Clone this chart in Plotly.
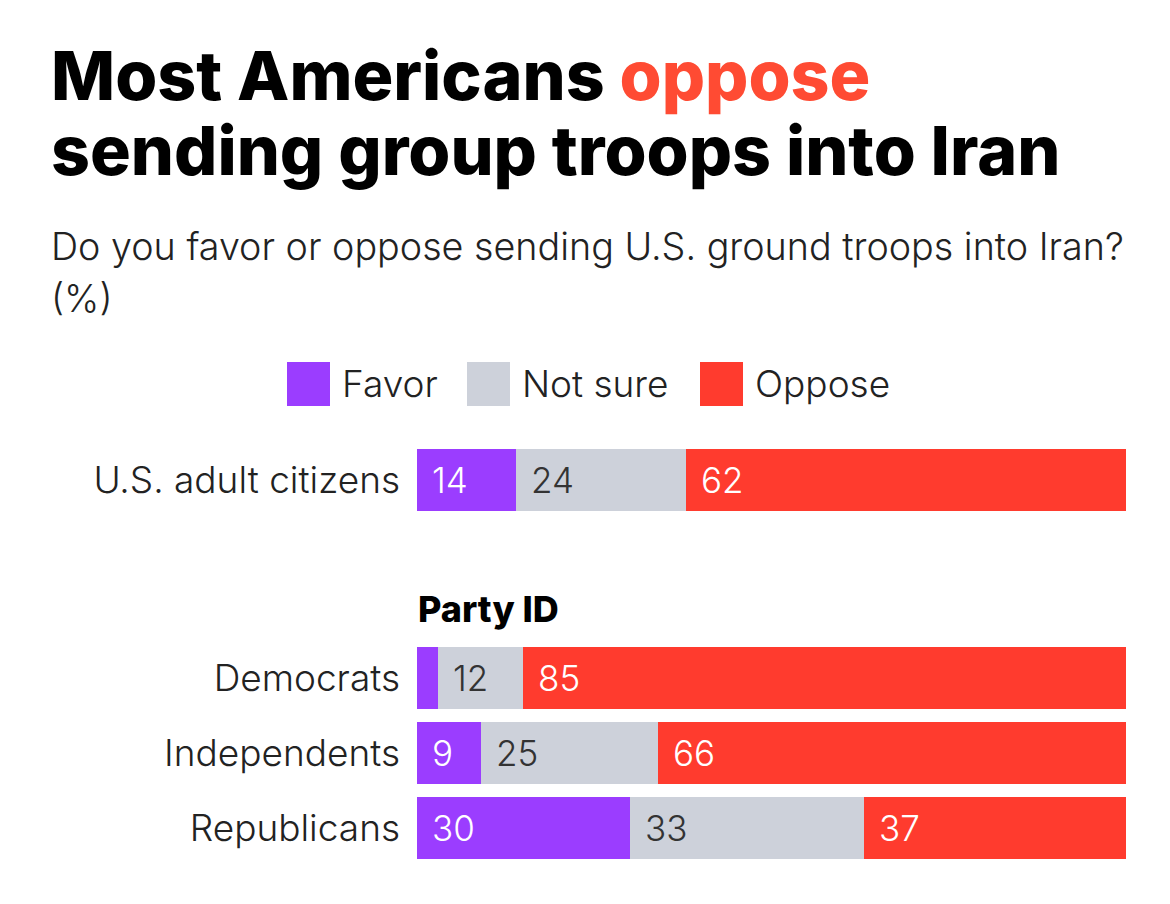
import plotly.graph_objects as go

# ---- data ----
categories = ["U.S. adult citizens", "Democrats", "Independents", "Republicans"]
favor = [14, 3, 9, 30]
not_sure = [24, 12, 25, 33]
oppose = [62, 85, 66, 37]
favor_labels = ["14", "", "9", "30"]
not_sure_labels = ["24", "12", "25", "33"]
oppose_labels = ["62", "85", "66", "37"]
series_names = ["Favor", "Not sure", "Oppose"]
# row positions (group gap between total and party rows)
row_pos = [0, 2.64, 3.64, 4.64]

COLORS = ["#9B3DFF", "#CDD1DA", "#FF3B2E"]
TEXT_COLORS = ["white", "#333333", "white"]
TITLE_RED = "#FF4B33"

W, H = 1170, 904
L, R, T, B = 417, 44, 435, 34
FONT = "Inter"
BODY = 37

def px_x(p):
    return (p - L) / (W - L - R)

def px_y(p):
    return (H - B - p) / (H - T - B)

fig = go.Figure()
series = [favor, not_sure, oppose]
labels = [favor_labels, not_sure_labels, oppose_labels]
for name, vals, col in zip(series_names, series, COLORS):
    fig.add_trace(go.Bar(
        y=row_pos, x=vals, name=name, orientation="h",
        marker=dict(color=col, line=dict(width=0)),
        width=0.83, showlegend=False, hoverinfo="x+name",
    ))

# segment value labels placed at each segment's start
annotations = []
for i in range(len(categories)):
    base = 0
    for s in range(3):
        v = series[s][i]
        txt = labels[s][i]
        if txt:
            annotations.append(dict(
                x=base, y=row_pos[i], xref="x", yref="y", text=txt,
                showarrow=False, xanchor="left", yanchor="middle", xshift=13,
                font=dict(family=FONT, size=35, color=TEXT_COLORS[s], weight=300),
            ))
        base += v

# title lines
annotations.append(dict(
    x=px_x(49), y=px_y(75), xref="paper", yref="paper", xanchor="left", yanchor="middle",
    text="Most Americans <span style='color:%s'>oppose</span>" % TITLE_RED,
    showarrow=False, font=dict(family=FONT, size=68, color="black", weight=800),
))
annotations.append(dict(
    x=px_x(49), y=px_y(150), xref="paper", yref="paper", xanchor="left", yanchor="middle",
    text="sending group troops into Iran",
    showarrow=False, font=dict(family=FONT, size=68, color="black", weight=800),
))
# subtitle
annotations.append(dict(
    x=px_x(49), y=px_y(246), xref="paper", yref="paper", xanchor="left", yanchor="middle",
    text="Do you favor or oppose sending U.S. ground troops into Iran?",
    showarrow=False, font=dict(family=FONT, size=37.7, color="#222222", weight=300),
))
annotations.append(dict(
    x=px_x(49), y=px_y(298), xref="paper", yref="paper", xanchor="left", yanchor="middle",
    text="(%)",
    showarrow=False, font=dict(family=FONT, size=37.7, color="#222222", weight=300),
))
# section label
annotations.append(dict(
    x=px_x(416), y=px_y(609), xref="paper", yref="paper", xanchor="left", yanchor="middle",
    text="Party ID",
    showarrow=False, font=dict(family=FONT, size=36, color="black", weight=800),
))

# custom legend
shapes = []
legend_items = [(287, 340), (467, 520), (700, 753)]
for (sx, tx), name, col in zip(legend_items, series_names, COLORS):
    shapes.append(dict(
        type="rect", xref="paper", yref="paper",
        x0=px_x(sx), x1=px_x(sx + 43), y0=px_y(406), y1=px_y(362),
        fillcolor=col, line=dict(width=0),
    ))
    annotations.append(dict(
        x=px_x(tx), y=px_y(383), xref="paper", yref="paper", xanchor="left", yanchor="middle",
        text=name, showarrow=False,
        font=dict(family=FONT, size=BODY, color="#222222", weight=300),
    ))

fig.update_layout(
    width=W, height=H,
    margin=dict(l=L, r=R, t=T, b=B, autoexpand=False),
    barmode="stack", bargap=0,
    paper_bgcolor="white", plot_bgcolor="white",
    xaxis=dict(range=[0, 100], visible=False, fixedrange=True),
    yaxis=dict(
        range=[5.2, -0.6], tickmode="array", tickvals=row_pos, ticktext=categories,
        showgrid=False, zeroline=False, showline=False, ticks="",
        ticklabelstandoff=16,
        tickfont=dict(family=FONT, size=BODY, color="#222222", weight=300),
    ),
    annotations=annotations, shapes=shapes,
    showlegend=False,
)

fig.write_html("out.html")
